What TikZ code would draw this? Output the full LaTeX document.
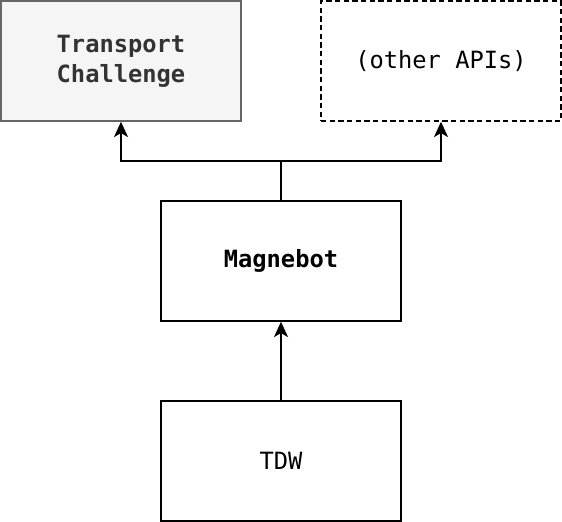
\documentclass[tikz,border=0pt]{standalone}
\usepackage{fontspec}
\setmonofont{DejaVu Sans Mono}
\usetikzlibrary{arrows.meta}
\definecolor{boxgray}{HTML}{F5F5F5}
\definecolor{edgegray}{HTML}{666666}
\definecolor{textgray}{HTML}{333333}
\begin{document}
\begin{tikzpicture}[x=0.75pt,y=-0.75pt,
  box/.style={draw=black,line width=1.1pt,minimum width=240*0.75pt,minimum height=120*0.75pt,inner sep=0pt,
    font=\ttfamily\fontsize{17.8}{22.5}\selectfont,align=center},
  conn/.style={line width=1.1pt,-{Stealth[length=11.5pt,width=10.5pt,inset=3pt]}}]
\useasboundingbox (0,0) rectangle (562,522);
\node[box,fill=boxgray,draw=edgegray,text=textgray,font=\ttfamily\bfseries\fontsize{17.8}{22.5}\selectfont] (tc) at (121,61) {Transport\\Challenge};
\node[box,dash pattern=on 4pt off 2.5pt] (oa) at (441,61) {(other APIs)};
\node[box,font=\ttfamily\bfseries\fontsize{17.8}{22.5}\selectfont] (mb) at (281,261) {Magnebot};
\node[box] (tdw) at (281,461) {TDW};
\coordinate (j) at (281,161);
\draw[conn] (mb.north) -- (j) -| (tc.south);
\draw[conn] (mb.north) -- (j) -| (oa.south);
\draw[conn] (tdw.north) -- (mb.south);
\end{tikzpicture}
\end{document}
